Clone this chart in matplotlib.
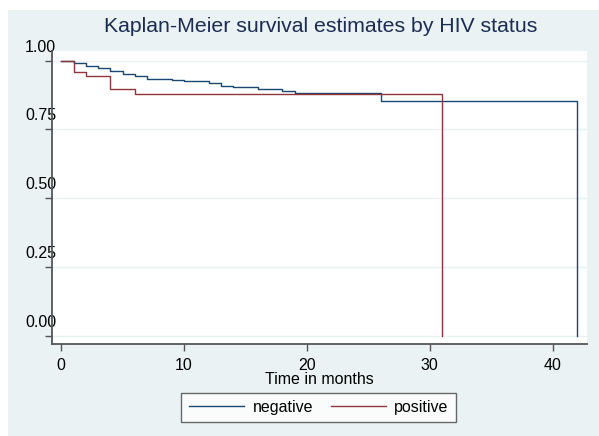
import matplotlib
matplotlib.use("Agg")
import matplotlib.pyplot as plt
from matplotlib.patches import Rectangle
from matplotlib.transforms import ScaledTranslation

plt.rcParams['font.family'] = ['Liberation Sans', 'DejaVu Sans']

# Kaplan-Meier step estimates (time in months, survival)
neg_time = [0, 1, 2, 3, 4, 5, 6, 7, 9, 10, 12, 13, 14, 16, 18, 19, 26, 42]
neg_surv = [1.0, 0.990, 0.981, 0.975, 0.964, 0.951, 0.944, 0.935, 0.930,
            0.925, 0.920, 0.909, 0.903, 0.896, 0.890, 0.884, 0.852, 0.0]
pos_time = [0, 1, 2, 4, 6, 31]
pos_surv = [1.0, 0.958, 0.944, 0.898, 0.880, 0.0]

x_ticks = [0, 10, 20, 30, 40]
y_ticks = [0.0, 0.25, 0.5, 0.75, 1.0]
y_labels = ["0.00", "0.25", "0.50", "0.75", "1.00"]

bg = '#eaf2f3'
navy = '#1a476f'
maroon = '#90353b'

fig = plt.figure(figsize=(5.99, 4.36), dpi=100)
fig.patch.set_facecolor('white')
fig.patches.append(Rectangle((8 / 599, 0), 1, 1 - 10 / 436, transform=fig.transFigure,
                             facecolor=bg, edgecolor='none', zorder=-10))

ax = fig.add_axes([52.3 / 599, 1 - 344.3 / 436, (587 - 52.3) / 599, (344.3 - 51) / 436])
ax.set_facecolor('white')

for y in y_ticks:
    ax.axhline(y, color=bg, lw=1.0, zorder=0)

ax.step(neg_time, neg_surv, where='post', color=navy, lw=1.0, label='negative')
ax.step(pos_time, pos_surv, where='post', color=maroon, lw=1.0, label='positive')

ax.set_xlim(-0.73, 42.8)
ax.set_ylim(-0.031, 1.035)

ax.spines['top'].set_visible(False)
ax.spines['right'].set_visible(False)
for s in ('left', 'bottom'):
    ax.spines[s].set_color('#555555')
    ax.spines[s].set_linewidth(1.3)

ax.set_xticks(x_ticks)
ax.set_yticks(y_ticks)
ax.set_yticklabels(y_labels)
ax.tick_params(axis='both', direction='out', length=5, width=1.0, color='#555555',
               labelsize=11.5, labelcolor='black')
ax.tick_params(axis='x', pad=5)
ax.tick_params(axis='y', pad=0)

# y labels sit up and over the axis line
shift = ScaledTranslation(0.11, 0.15, fig.dpi_scale_trans)
for lab in ax.get_yticklabels():
    lab.set_transform(lab.get_transform() + shift)

ax.set_xlabel('Time in months', fontsize=11.5, labelpad=-1)

fig.text(0.536, 0.927, 'Kaplan-Meier survival estimates by HIV status',
         ha='center', va='baseline', fontsize=15.3, color='#1c2c54')

leg = fig.legend(loc='center', bbox_to_anchor=(0.532, 0.066), ncol=2,
                 fontsize=11.5, frameon=True, fancybox=False, handlelength=3.5,
                 columnspacing=1.1, handletextpad=0.5, borderpad=0.45)
leg.get_frame().set_edgecolor('#444444')
leg.get_frame().set_linewidth(1.0)

fig.savefig('out.png', dpi=100, facecolor=fig.get_facecolor())
